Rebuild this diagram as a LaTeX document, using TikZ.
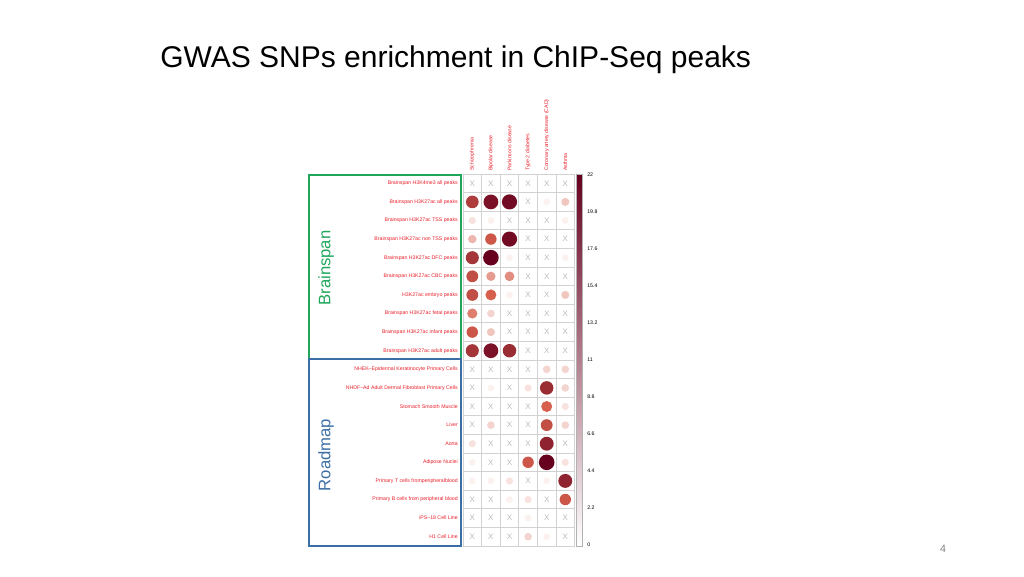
\documentclass[tikz,border=0pt]{standalone}
\usepackage{fontspec}
\setmainfont{Liberation Sans}
\usepackage{xcolor}
\definecolor{cmid}{HTML}{D6604D}
\definecolor{cdark}{HTML}{67001F}
\definecolor{lblred}{HTML}{E8202A}
\definecolor{bsgreen}{HTML}{1FA65A}
\definecolor{rmblue}{HTML}{3A6EA5}
\tikzset{
  rowlbl/.style={text=lblred, font=\fontsize{3.9}{4}\selectfont, anchor=east, inner sep=0pt},
  collbl/.style={text=lblred, font=\fontsize{3.9}{4}\selectfont, anchor=west, rotate=90, inner sep=0pt},
  ticklbl/.style={font=\fontsize{3.9}{4}\selectfont, anchor=west, inner sep=0pt},
  groupbox/.style={line width=1.3pt},
}
\begin{document}
\begin{tikzpicture}[x=0.75pt,y=-0.75pt]
  \useasboundingbox (0,0) rectangle (1024,576);

  % Title
  \node[anchor=west, inner sep=0pt, font=\fontsize{22.5}{25}\selectfont] (title) at (160,60) {GWAS SNPs enrichment in ChIP-Seq peaks};

  % Grid
  \foreach \c in {0,...,6} \draw[gray!35, line width=0.6pt] (463+18.6*\c,174) -- (463+18.6*\c,546);
  \foreach \r in {0,...,20} \draw[gray!35, line width=0.6pt] (463,174+18.6*\r) -- (574.6,174+18.6*\r);

  % Column labels
  \foreach \t [count=\c] in {Schizophrenia,Bipolar disease,Parkinsons disease,Type 2 diabetes,Coronary artery disease (CAD),Asthma}
    \node[collbl] (col\c) at (463+18.6*\c-9.3,171) {\t};

  % Row labels
  \foreach \t [count=\r] in {Brainspan H3K4me3 all peaks,Brainspan H3K27ac all peaks,Brainspan H3K27ac TSS peaks,Brainspan H3K27ac non TSS peaks,Brainspan H3K27ac DFC peaks,Brainspan H3K27ac CBC peaks,H3K27ac embryo peaks,Brainspan H3K27ac fetal peaks,Brainspan H3K27ac infant peaks,Brainspan H3K27ac adult peaks,NHEK--Epidermal Keratinocyte Primary Cells,NHDF--Ad Adult Dermal Fibroblast Primary Cells,Stomach Smooth Muscle,Liver,Aorta,Adipose Nuclei,Primary T cells fromperipheralblood,Primary B cells from peripheral blood,iPS--18 Cell Line,H1 Cell Line}
    \node[rowlbl] (row\r) at (458,174+18.6*\r-9.3) {\t};

  % Cells (-1 = cross)
  \foreach \r/\vals in {1/{-1,-1,-1,-1,-1,-1},2/{15,20,21,-1,1,4},3/{2,1,-1,-1,-1,1},4/{5,12,21,-1,-1,-1},
      5/{16,22,1,-1,-1,1},6/{13,7,8,-1,-1,-1},7/{13,11,1,-1,-1,4},8/{9,3,-1,-1,-1,-1},9/{12,4,-1,-1,-1,-1},
      10/{16,20,17,-1,-1,-1},11/{-1,-1,-1,-1,3,3},12/{-1,1,-1,2,17,3},13/{-1,-1,-1,-1,11,2},14/{-1,3,-1,-1,13,3},
      15/{2,-1,-1,-1,18,-1},16/{1,-1,-1,12,22,2},17/{1,1,2,-1,1,18},18/{-1,-1,1,2,-1,12},19/{-1,-1,-1,1,-1,-1},
      20/{-1,-1,-1,3,1,-1}}
    \foreach \v [count=\c] in \vals {
      \ifnum\v<0
        \node[text=gray!55, font=\fontsize{6}{6}\selectfont, inner sep=0pt] at (463+18.6*\c-9.3,174+18.6*\r-9.3) {X};
      \else
        \ifnum\v>11
          \pgfmathtruncatemacro\p{(\v-11)/11*100}
          \colorlet{cellc}{cdark!\p!cmid}
        \else
          \pgfmathtruncatemacro\p{\v/11*100}
          \colorlet{cellc}{cmid!\p!white}
        \fi
        \fill[cellc] (463+18.6*\c-9.3,174+18.6*\r-9.3) circle ({3.2+4.6*\v/22});
      \fi
    };

  % Colour bar
  \shade[top color=cdark, middle color=cmid, bottom color=white] (576,174) rectangle (582,546);
  \draw[gray!60, line width=0.4pt] (576,174) rectangle (582,546);
  \foreach \t [count=\i from 0] in {22,19.8,17.6,15.4,13.2,11,8.8,6.6,4.4,2.2,0}
    \node[ticklbl] (tick\i) at (587,175+37*\i) {\t};

  % Group boxes
  \draw[groupbox, bsgreen] (309,175) rectangle (461,359);
  \draw[groupbox, rmblue] (309,359) rectangle (461,546);
  \node[text=bsgreen, rotate=90, font=\fontsize{12.5}{14}\selectfont] (brainspan) at (326,268) {Brainspan};
  \node[text=rmblue, rotate=90, font=\fontsize{12.5}{14}\selectfont] (roadmap) at (326,455) {Roadmap};

  % Page number
  \node[text=gray, font=\fontsize{8}{9}\selectfont] (pagenum) at (943,549) {4};
\end{tikzpicture}
\end{document}
